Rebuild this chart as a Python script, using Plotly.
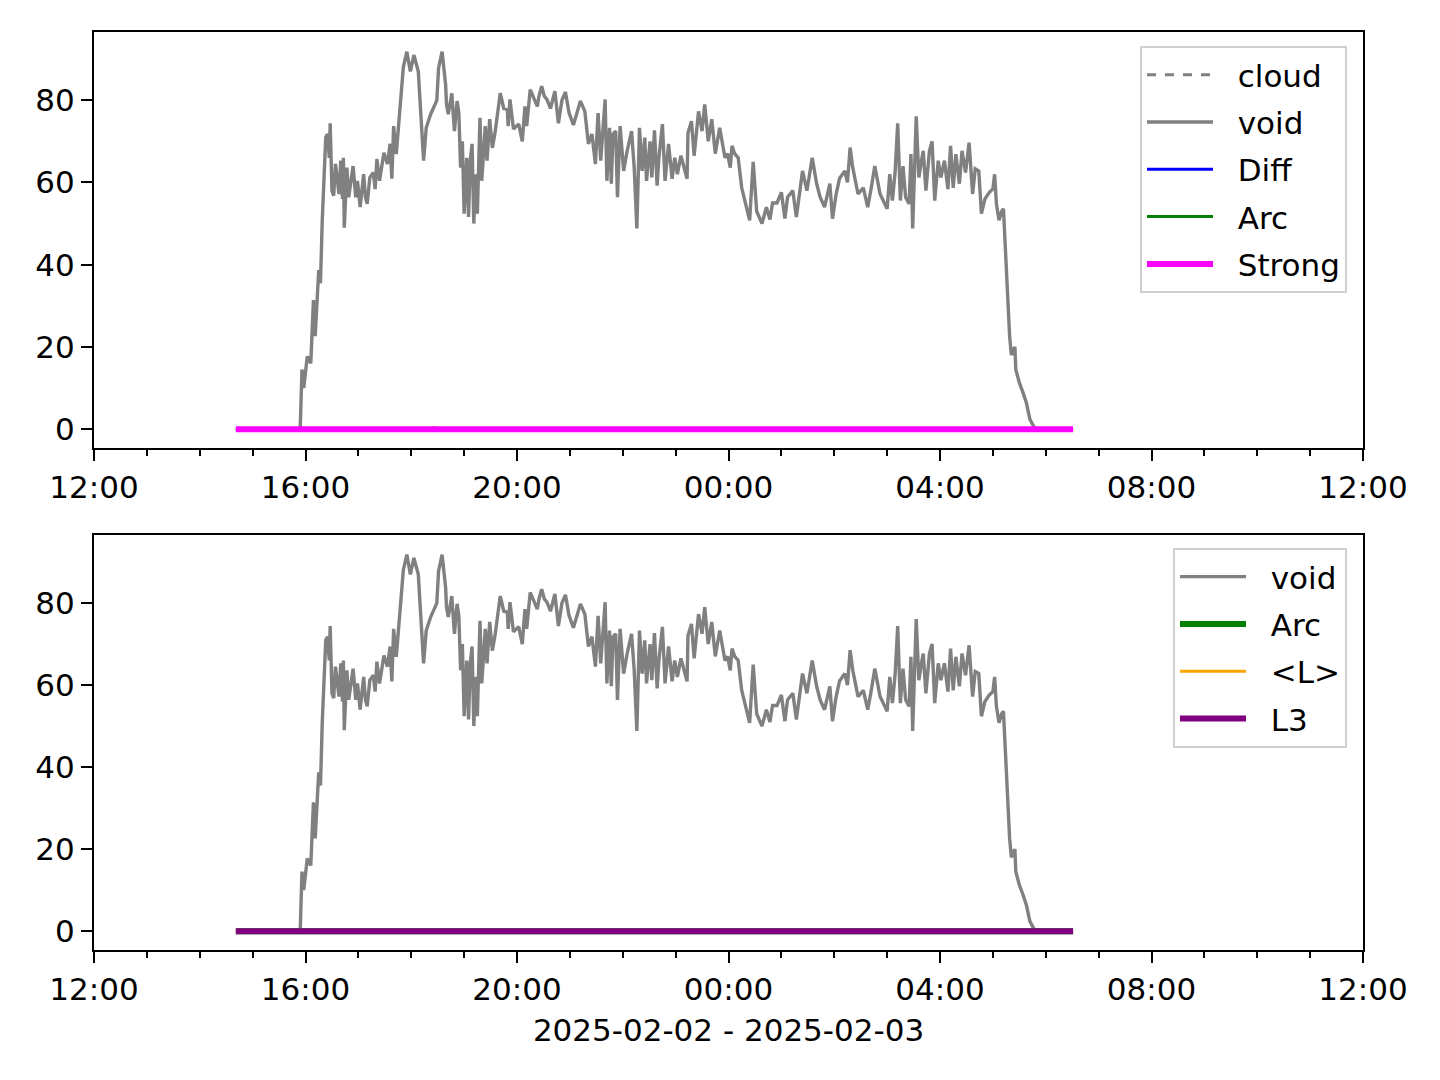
import plotly.graph_objects as go

# ---- data ----
void_times = [
    "14:41", "15:54", "15:56", "15:58", "16:02", "16:06", "16:09", "16:11", "16:15", "16:17", "16:19",
    "16:21", "16:23", "16:25", "16:27", "16:28", "16:30", "16:32", "16:34", "16:38", "16:40",
    "16:42", "16:43", "16:44", "16:47", "16:49", "16:54", "16:57", "16:59", "17:02", "17:06",
    "17:08", "17:10", "17:13", "17:17", "17:19", "17:21", "17:24", "17:29", "17:33", "17:36",
    "17:38", "17:40", "17:43", "17:45", "17:48", "17:50", "17:51", "17:55", "17:59", "18:03",
    "18:08", "18:10", "18:14", "18:17", "18:22", "18:27", "18:29", "18:31", "18:35",
    "18:39", "18:40", "18:42", "18:46", "18:49", "18:52", "18:54", "18:56", "18:58", "19:00",
    "19:03", "19:05", "19:07", "19:09", "19:11", "19:13", "19:15", "19:18", "19:20", "19:24",
    "19:26", "19:29", "19:32", "19:35", "19:41", "19:45", "19:49", "19:50", "19:52", "19:56",
    "20:02", "20:06", "20:09", "20:11", "20:15", "20:18", "20:23", "20:25", "20:28", "20:31",
    "20:34", "20:38", "20:43", "20:47",
    "20:51", "20:55", "20:59", "21:04", "21:07", "21:12",
    "21:17", "21:21", "21:25", "21:29", "21:32", "21:35", "21:40", "21:42", "21:45", "21:47",
    "21:49", "21:52", "21:54", "21:57", "22:01", "22:05", "22:10", "22:13", "22:16", "22:19",
    "22:22", "22:25", "22:27", "22:31", "22:33", "22:36", "22:39", "22:41", "22:45", "22:48",
    "22:52", "22:56", "22:59", "23:02", "23:06", "23:10", "23:13", "23:14", "23:18", "23:21",
    "23:26", "23:30", "23:33",
    "23:37", "23:41", "23:45", "23:50", "23:56", "23:59", "00:02", "00:04", "00:07", "00:11",
    "00:15", "00:19", "00:24", "00:28", "00:32", "00:38", "00:43", "00:47", "00:50", "00:55",
    "01:00", "01:04", "01:07", "01:13", "01:17", "01:21", "01:24", "01:29", "01:32", "01:35",
    "01:40", "01:44", "01:49", "01:55", "01:58", "02:02", "02:06", "02:12", "02:15", "02:18",
    "02:21", "02:27", "02:33", "02:38", "02:42", "02:46",
    "02:52", "02:55", "03:00", "03:03", "03:06", "03:09", "03:12", "03:15", "03:18", "03:21",
    "03:25", "03:27", "03:29", "03:33", "03:36", "03:39", "03:41", "03:44", "03:48", "03:51",
    "03:54", "03:58", "04:01", "04:05", "04:09", "04:12", "04:15", "04:18", "04:22", "04:25",
    "04:29", "04:33", "04:37", "04:40", "04:44", "04:47", "04:51", "04:56", "05:00", "05:02",
    "05:04", "05:07",
    "05:10", "05:12", "05:15", "05:19", "05:21", "05:25", "05:26", "05:30", "05:34", "05:38",
    "05:42", "05:47", "05:53", "06:31",
]
void_values = [
    0, 0, 14.5, 10, 17.7, 16, 31.4, 22.6, 38.7, 35.5, 50.8,
    62, 71, 71.8, 66, 74.4, 58, 56.8, 64.5, 57.2, 65.3,
    56, 66, 49, 63.6, 56.4, 64, 56.4, 60.4, 54, 62,
    56.4, 54.8, 61.2, 62.4, 58.4, 65.7, 60.4, 67.2, 64.5, 69.4,
    60.9, 73.7, 66.9, 72, 82, 86, 88, 91.8, 87, 91,
    87, 79.8, 65.3, 73.3, 76.6, 79, 80, 87.8, 91.8,
    83.8, 79, 76.6, 81.7, 72.5, 79.8, 76.9, 63.6, 70, 52.4,
    66, 51.6, 65.3, 69.4, 50, 62, 52.4, 75.7, 60.4, 73.7,
    65.3, 75.4, 68.4, 72, 81.7, 78, 77.8, 73.7, 80.2, 73,
    74.2, 70, 78.5, 73.7, 82.6, 81, 78.5, 81, 83.4, 81,
    80.2, 78, 82.2, 74.4,
    80, 82, 77, 74, 76, 79.8,
    77.3, 69.4, 71.8, 64.5, 76.9, 65.3, 80.2, 60.4, 73.3, 59.7,
    71.8, 72.5, 56.4, 73.7, 62.8, 67.7, 72.5, 63.6, 48.8, 73.3,
    62.8, 70.9, 60.4, 70, 61.2, 72.7, 59.2, 66, 74.2, 60.4,
    69.4, 60.9, 66, 62, 66.5, 63.6, 60.9, 72, 74.9, 66.5,
    77.3, 72.5, 79,
    70, 75.4, 67, 73.3, 66, 67, 63.6, 68.9, 67, 66,
    58.7, 55, 50.8, 65, 53, 50, 54, 51, 55, 55,
    57.6, 51.2, 56.4, 58, 51.6, 58, 62.8, 58, 62, 66,
    59.7, 56.4, 54, 59.7, 51.2, 57, 61, 62.8, 60, 68.5,
    63.6, 57.2, 58.7, 54, 58.7, 64,
    57.2, 56, 53.6, 62, 55.6, 62.4, 74.4, 55.6, 64, 56.4,
    54.8, 66.9, 48.8, 76.1, 61.2, 65.3, 67.7, 58, 67.7, 70,
    55.6, 65.3, 61.2, 65.3, 58.4, 68.9, 58.7, 66.9, 59.7, 67.7,
    62.4, 69.7, 57.2, 63.3, 62.8, 52.4, 56, 57.6, 58.4, 62,
    54.8, 50.8,
    53, 53.6, 39.5, 22.6, 18, 20, 14.5, 11.3, 9, 6.4,
    2.4, 0.4, 0, 0,
]
flat_times = ["14:41", "06:31"]
flat_values = [0, 0]
arc_times = ["14:41", "18:22", "18:25", "18:28", "06:31"]
arc_values = [0, 0, 0.3, 0, 0]
x_ticks = ["12:00", "16:00", "20:00", "00:00", "04:00", "08:00", "12:00"]
x_label = "2025-02-02 - 2025-02-03"


def stamp(hhmm, next_day_noon=False):
    h = int(hhmm[:2])
    day = "2025-02-03" if (h < 12 or next_day_noon) else "2025-02-02"
    return f"{day} {hhmm}"


vt = [stamp(t) for t in void_times]
ft = [stamp(t) for t in flat_times]
at = [stamp(t) for t in arc_times]
tick_vals = [stamp(t) for t in x_ticks[:-1]] + [stamp(x_ticks[-1], True)]

GRAY = "#808080"
FONT = "DejaVu Sans"
FS = 31
GAP = "\u00a0\u00a0"  # spacing between legend handle and label
VW = 3.4

fig = go.Figure()

# top panel
fig.add_trace(go.Scatter(x=vt, y=[None] * len(vt), name=GAP + "cloud", mode="lines",
                         line=dict(color=GRAY, width=3, dash="dash"), xaxis="x", yaxis="y",
                         legend="legend", legendgroup="a1"))
fig.add_trace(go.Scatter(x=vt, y=void_values, name=GAP + "void", mode="lines",
                         line=dict(color=GRAY, width=VW), xaxis="x", yaxis="y",
                         legend="legend", legendgroup="a2"))
fig.add_trace(go.Scatter(x=ft, y=flat_values, name=GAP + "Diff", mode="lines",
                         line=dict(color="#0000ff", width=3), xaxis="x", yaxis="y",
                         legend="legend", legendgroup="a3"))
fig.add_trace(go.Scatter(x=at, y=arc_values, name=GAP + "Arc", mode="lines",
                         line=dict(color="#008000", width=3), xaxis="x", yaxis="y",
                         legend="legend", legendgroup="a4"))
fig.add_trace(go.Scatter(x=ft, y=flat_values, name=GAP + "Strong", mode="lines",
                         line=dict(color="#ff00ff", width=6), xaxis="x", yaxis="y",
                         legend="legend", legendgroup="a5"))

# bottom panel
fig.add_trace(go.Scatter(x=vt, y=void_values, name=GAP + "void", mode="lines",
                         line=dict(color=GRAY, width=VW), xaxis="x2", yaxis="y2",
                         legend="legend2", legendgroup="b1"))
fig.add_trace(go.Scatter(x=at, y=arc_values, name=GAP + "Arc", mode="lines",
                         line=dict(color="#008000", width=6), xaxis="x2", yaxis="y2",
                         legend="legend2", legendgroup="b2"))
fig.add_trace(go.Scatter(x=ft, y=flat_values, name=GAP + "<L>", mode="lines",
                         line=dict(color="#ffa500", width=3), xaxis="x2", yaxis="y2",
                         legend="legend2", legendgroup="b3"))
fig.add_trace(go.Scatter(x=ft, y=flat_values, name=GAP + "L3", mode="lines",
                         line=dict(color="#800080", width=6), xaxis="x2", yaxis="y2",
                         legend="legend2", legendgroup="b4"))

xcommon = dict(
    type="date", range=[tick_vals[0], tick_vals[-1]],
    tickvals=tick_vals, ticktext=x_ticks,
    ticks="outside", ticklen=11, tickwidth=2, tickcolor="black",
    minor=dict(dtick=3600000, ticks="outside", ticklen=6, tickwidth=2, tickcolor="black"),
    showline=True, linecolor="black", linewidth=2, mirror=True,
    showgrid=False, zeroline=False,
    tickfont=dict(family=FONT, size=FS, color="black"),
)
ycommon = dict(
    range=[-4.6, 96.6], tickvals=[0, 20, 40, 60, 80],
    ticks="outside", ticklen=11, tickwidth=2, tickcolor="black",
    showline=True, linecolor="black", linewidth=2, mirror=True,
    showgrid=False, zeroline=False,
    tickfont=dict(family=FONT, size=FS, color="black"),
)

legcommon = dict(
    xref="paper", yref="paper", xanchor="right", yanchor="top",
    bgcolor="white", bordercolor="#d0d0d0", borderwidth=2,
    font=dict(family=FONT, size=FS, color="black"),
    itemwidth=66, tracegroupgap=4,
)

fig.update_layout(
    width=1440, height=1080,
    margin=dict(l=86, r=85, t=24, b=138),
    paper_bgcolor="white", plot_bgcolor="white",
    font=dict(family=FONT, size=FS, color="black"),
    xaxis=dict(**xcommon, domain=[0, 1], anchor="y"),
    yaxis=dict(**ycommon, domain=[0.5468, 1], anchor="x"),
    xaxis2=dict(**xcommon, domain=[0, 1], anchor="y2",
                title=dict(text=x_label, font=dict(family=FONT, size=FS, color="black"), standoff=13)),
    yaxis2=dict(**ycommon, domain=[0, 0.4521], anchor="x2"),
    legend=dict(**legcommon, x=0.9874, y=0.9847),
    legend2=dict(**legcommon, x=0.9874, y=0.4379),
    showlegend=True,
)

fig.write_html("out.html")
